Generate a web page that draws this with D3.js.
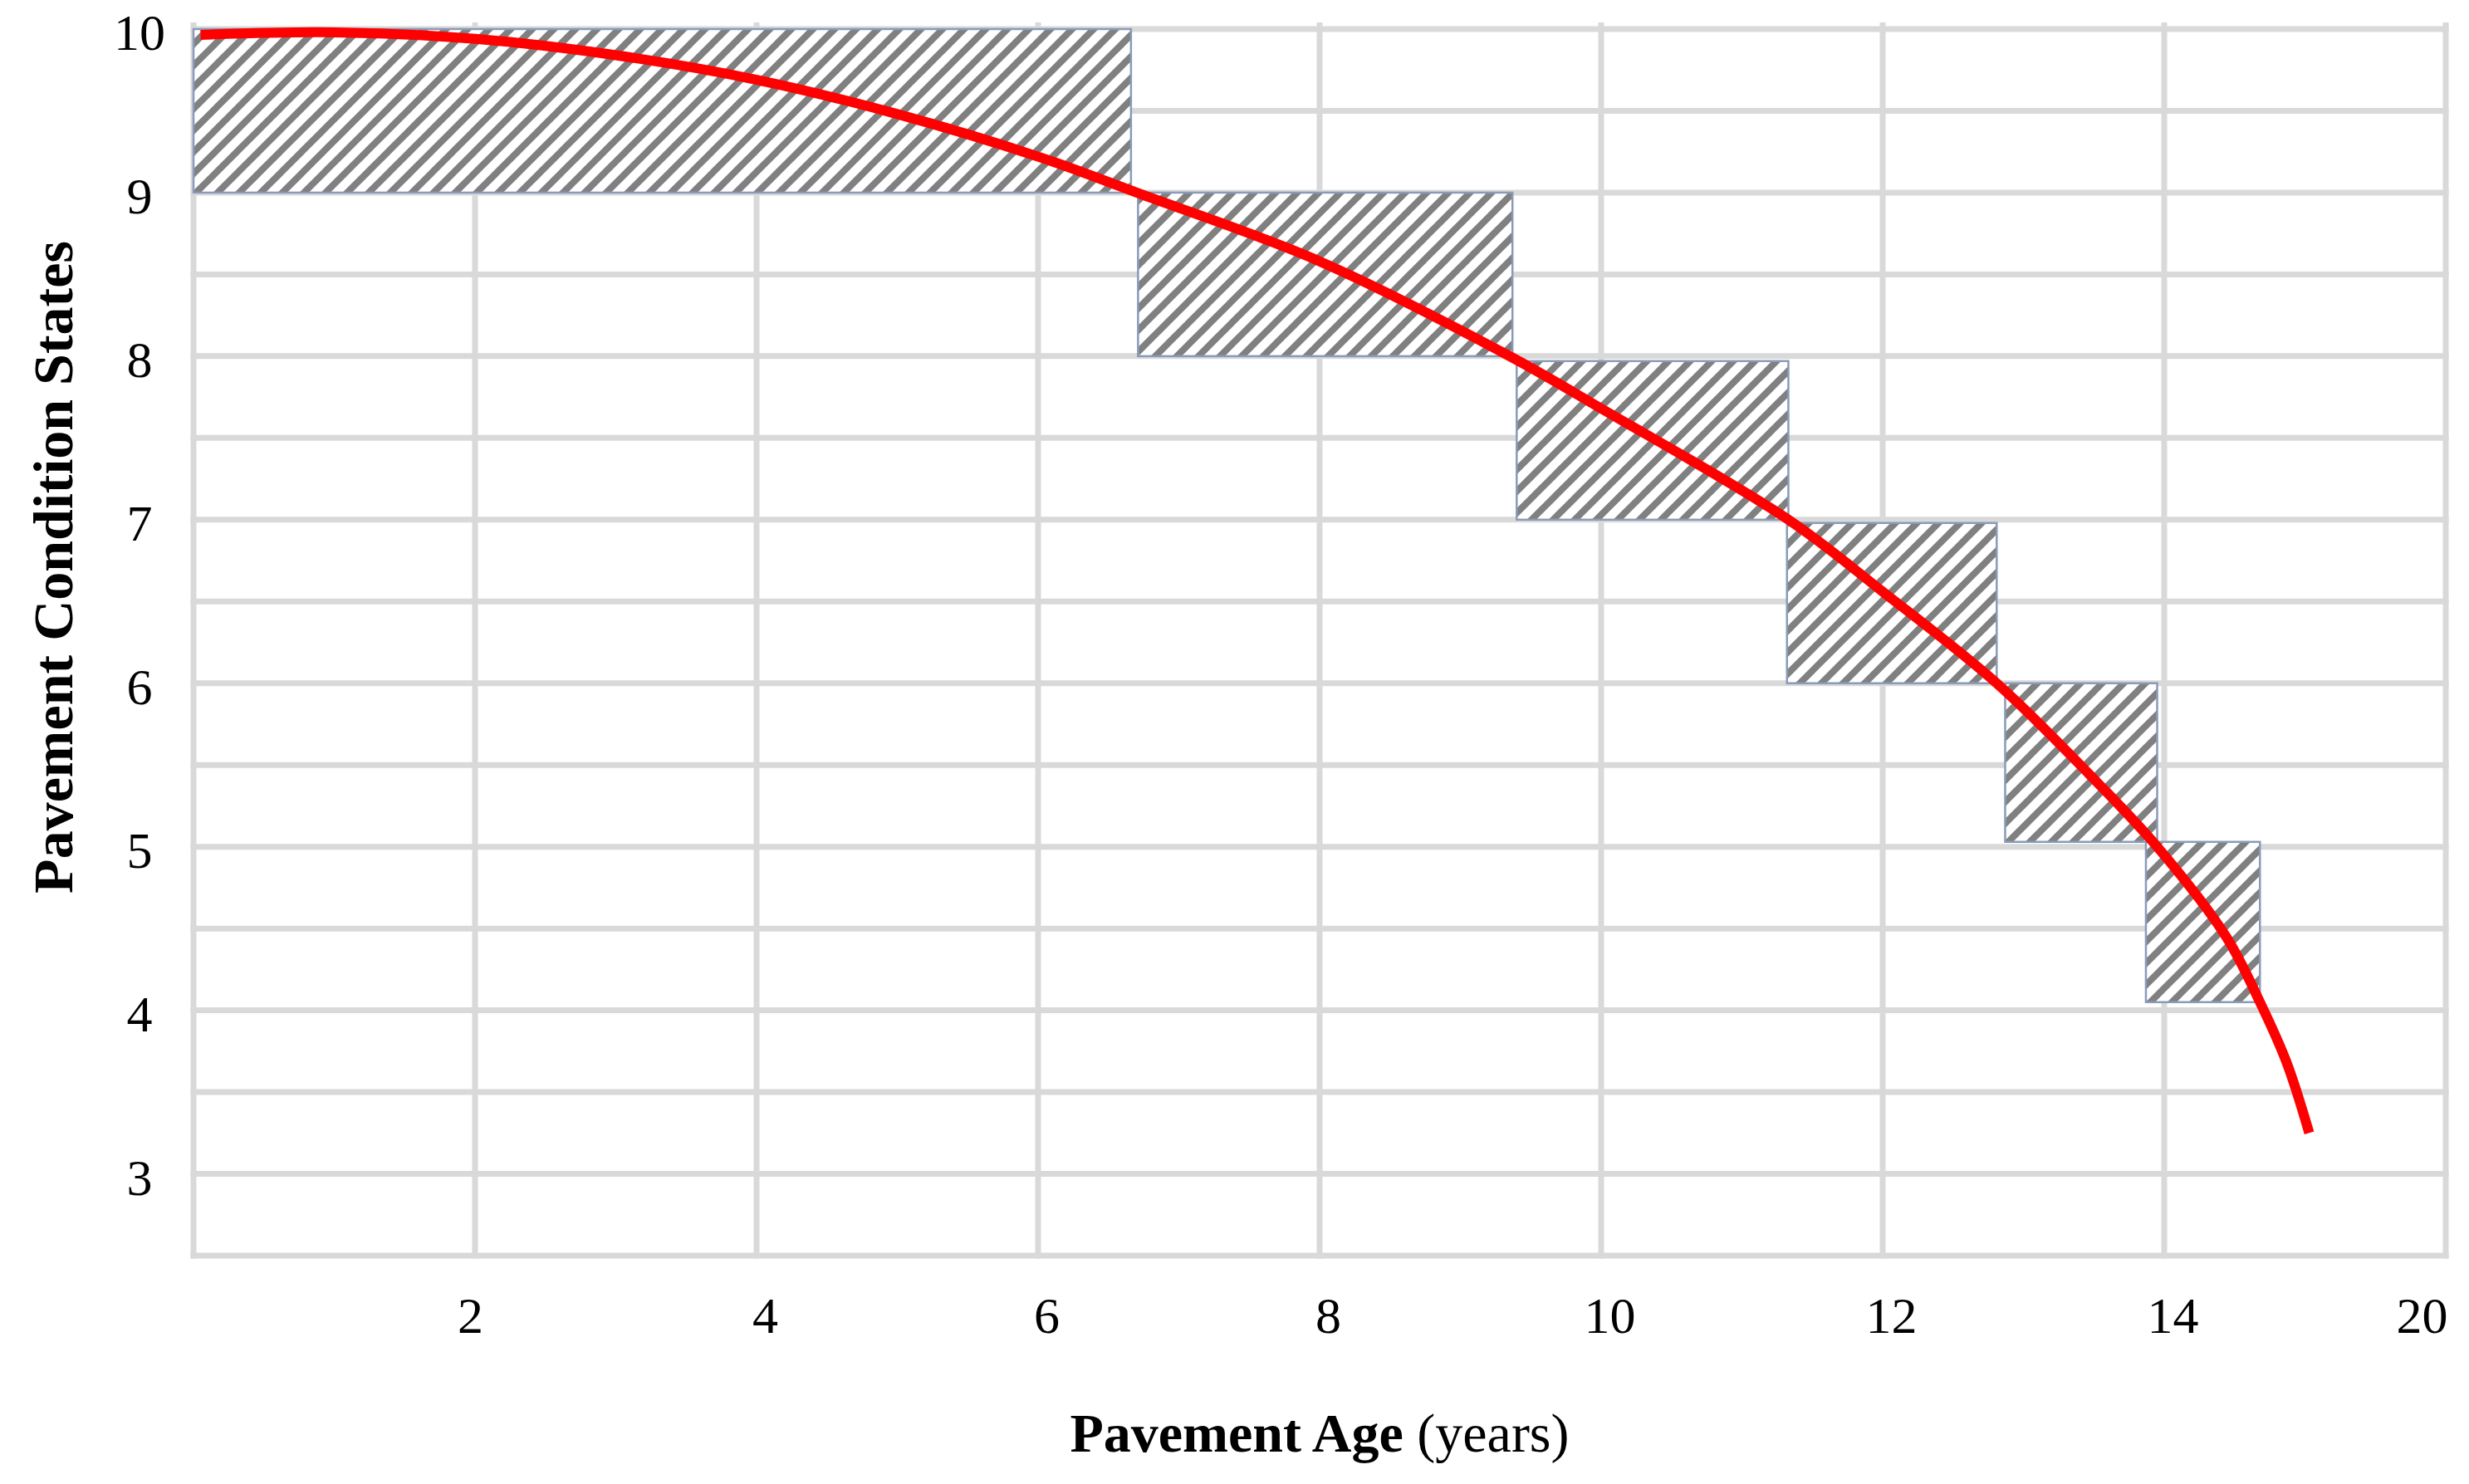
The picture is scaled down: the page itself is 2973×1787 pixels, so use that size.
<!DOCTYPE html>
<html>
<head>
<meta charset="utf-8">
<script src="https://cdn.jsdelivr.net/npm/d3@7"></script>
<style>
  html, body { margin: 0; padding: 0; background: #ffffff; }
  svg { display: block; }
  text { font-family: "Liberation Serif", "Times New Roman", serif; fill: #000; }
</style>
</head>
<body>
<svg id="chart" width="2973" height="1787"></svg>
<script>
// ---- data ----
const xTickValues = [2, 4, 6, 8, 10, 12, 14, 16];
const xTickLabels = ["2", "4", "6", "8", "10", "12", "14", "20"];
const yTickValues = [3, 4, 5, 6, 7, 8, 9, 10];

// deterioration curve (pavement age in years, condition state)
const curveAge   = [0.05, 1, 2, 3, 4, 5, 6, 6.7, 8, 9.35, 10, 11.33, 12, 12.81, 13.46, 13.95, 14.44, 14.68, 14.87, 15.03];
const curveState = [9.965, 9.98, 9.94, 9.84, 9.69, 9.48, 9.22, 9.0, 8.58, 8.0, 7.68, 7.0, 6.56, 6.0, 5.45, 5.0, 4.45, 4.05, 3.68, 3.25];

// hatched condition-state boxes
const boxAgeStart   = [0,    6.71, 9.40, 11.32, 12.87, 13.87];
const boxAgeEnd     = [6.66, 9.37, 11.33, 12.81, 13.95, 14.68];
const boxStateTop   = [10,   9,    7.97, 6.98, 6.0,  5.03];
const boxStateBottom= [9,    8,    7.0,  6.0,  5.03, 4.05];

const xTitleBold = "Pavement Age";
const xTitleNormal = " (years)";
const yTitle = "Pavement Condition States";

// ---- layout ----
const svg = d3.select("#chart");
const plotLeft = 233, plotRight = 2945, plotTop = 35, plotBottom = 1512;
const x = d3.scaleLinear().domain([0, 16]).range([plotLeft, plotRight]);
const y = d3.scaleLinear().domain([2.5, 10]).range([plotBottom, plotTop]);

const gridColor = "#d9d9d9";
const gridW = 7;

// hatch pattern
const defs = svg.append("defs");
const pat = defs.append("pattern")
  .attr("id", "hatch")
  .attr("patternUnits", "userSpaceOnUse")
  .attr("width", 26).attr("height", 26);
pat.append("rect").attr("width", 26).attr("height", 26).attr("fill", "#ffffff");
[[0, 26, 26, 0], [-13, 13, 13, -13], [13, 39, 39, 13]].forEach(([x1, y1, x2, y2]) => {
  pat.append("line").attr("x1", x1).attr("y1", y1).attr("x2", x2).attr("y2", y2)
    .attr("stroke", "#808080").attr("stroke-width", 8);
});

// grid
const gGrid = svg.append("g");
const hLines = d3.range(2.5, 10.01, 0.5);
gGrid.selectAll("line.h").data(hLines).enter().append("line")
  .attr("x1", plotLeft - gridW / 2).attr("x2", plotRight + gridW / 2)
  .attr("y1", d => y(d)).attr("y2", d => y(d))
  .attr("stroke", gridColor).attr("stroke-width", gridW);
const vLines = d3.range(0, 16.01, 2);
gGrid.selectAll("line.v").data(vLines).enter().append("line")
  .attr("x1", d => x(d)).attr("x2", d => x(d))
  .attr("y1", plotTop - 8).attr("y2", plotBottom + gridW / 2)
  .attr("stroke", gridColor).attr("stroke-width", gridW);

// boxes
const boxes = boxAgeStart.map((s, i) => ({ s, e: boxAgeEnd[i], t: boxStateTop[i], b: boxStateBottom[i] }));
svg.append("g").selectAll("rect").data(boxes).enter().append("rect")
  .attr("x", d => x(d.s)).attr("y", d => y(d.t))
  .attr("width", d => x(d.e) - x(d.s)).attr("height", d => y(d.b) - y(d.t))
  .attr("fill", "url(#hatch)")
  .attr("stroke", "#8a9bb8").attr("stroke-width", 2.5);

// curve
const pts = curveAge.map((a, i) => [a, curveState[i]]);
const line = d3.line().x(d => x(d[0])).y(d => y(d[1])).curve(d3.curveCatmullRom.alpha(0.5));
svg.append("path").datum(pts)
  .attr("d", line)
  .attr("fill", "none")
  .attr("stroke", "#ff0000")
  .attr("stroke-width", 12);

// x axis labels
const xAxis = d3.axisBottom(x)
  .tickValues(xTickValues)
  .tickFormat((d, i) => xTickLabels[i])
  .tickSize(0);
const gx = svg.append("g").attr("transform", `translate(0,${plotBottom})`).call(xAxis);
gx.select(".domain").remove();
gx.selectAll("text")
  .attr("y", 71).attr("dy", "0.35em")
  .attr("dx", (d, i) => i === xTickValues.length - 1 ? -29 : (i === 0 ? -6 : 10))
  .style("font-size", "62px")
  .style("font-family", "'Liberation Serif', 'Times New Roman', serif")
  .attr("fill", "#000");

// y axis labels
const yAxis = d3.axisLeft(y).tickValues(yTickValues).tickFormat(d3.format("d")).tickSize(0);
const gy = svg.append("g").attr("transform", `translate(${plotLeft},0)`).call(yAxis);
gy.select(".domain").remove();
gy.selectAll("text")
  .attr("x", -65).attr("dy", "0.4em")
  .attr("text-anchor", "middle")
  .style("font-size", "62px")
  .style("font-family", "'Liberation Serif', 'Times New Roman', serif")
  .attr("fill", "#000");

// axis titles
const xt = svg.append("text")
  .attr("x", (plotLeft + plotRight) / 2).attr("y", 1725).attr("dy", "0.35em")
  .attr("text-anchor", "middle")
  .style("font-size", "66px");
xt.append("tspan").attr("font-weight", "bold").text(xTitleBold);
xt.append("tspan").text(xTitleNormal);

svg.append("text")
  .attr("transform", "translate(63,683) rotate(-90)")
  .attr("dy", "0.35em")
  .attr("text-anchor", "middle")
  .attr("font-weight", "bold")
  .style("font-size", "68px")
  .text(yTitle);
</script>
</body>
</html>
